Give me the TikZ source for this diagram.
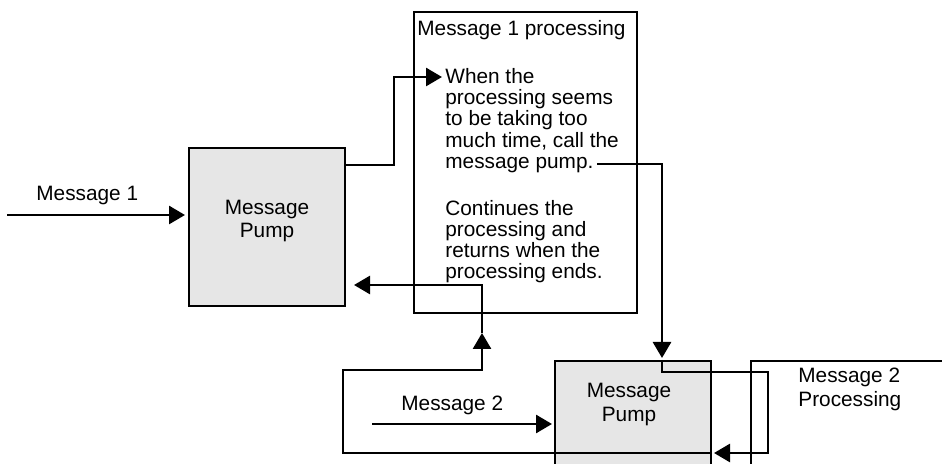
\documentclass[tikz,border=0pt]{standalone}
\usepackage{fontspec}
\setmainfont{Liberation Sans}
\usetikzlibrary{positioning, arrows.meta}
\definecolor{pumpfill}{HTML}{E6E6E6}

\begin{document}
\begin{tikzpicture}[
    x=0.5pt, y=-0.5pt,
    pump/.style={rectangle, draw, fill=pumpfill, line width=1pt, minimum width=78pt, minimum height=79pt, align=center, font=\fontsize{10.4}{11.8}\selectfont},
    procbox/.style={rectangle, draw, line width=1pt},
    txt/.style={inner sep=0pt, align=left, font=\fontsize{10.4}{10.6}\selectfont},
    arr/.style={-{Triangle[length=8pt, width=9pt]}, line width=1.4pt},
  ]
    \useasboundingbox (0,0) rectangle (942,464);
    \clip (0,0) rectangle (942,464);

    % boxes
    \node[pump, anchor=north west, text depth=8pt] (pump1) at (188,147) {Message\\Pump};
    \node[procbox, anchor=north west, minimum width=111.5pt, minimum height=150.5pt] (proc1) at (413,11) {};
    \node[pump, anchor=north west, text height=0pt] (pump2) at (554,360) {};
    \node[procbox, anchor=north west, minimum width=110pt, minimum height=80pt] (proc2) at (750,360) {};

    % texts
    \node[txt, anchor=base west] (proc1title) at (417,36) {Message 1 processing};
    \node[txt, anchor=north west] (proc1body) at (445,68) {When the\\processing seems\\to be taking too\\much time, call the\\message pump.\\[12.9pt]Continues the\\processing and\\returns when the\\processing ends.};
    \node[txt, align=center, anchor=north, font=\fontsize{10.4}{12}\selectfont] (pump2txt) at (629,383) {Message\\Pump};
    \node[txt, anchor=north west, font=\fontsize{10.4}{12}\selectfont] (proc2title) at (798,368) {Message 2\\Processing};
    \node[txt, anchor=base west] (msg1) at (36,201) {Message 1};
    \node[txt, anchor=base west] (msg2) at (401,410) {Message 2};

    \coordinate (m1in) at (7,215);
    \coordinate (m2in) at (372,424);
    \coordinate (whenpt) at (442,77);
    \coordinate (callpt) at (597,164);
    \coordinate (loopr) at (768,372);
    \coordinate (loopb) at (343,453);
    \coordinate (retup) at (482,370);
    \coordinate (retarr) at (482,333);

    % message 1 path
    \draw[arr, shorten >=1.5pt] (m1in) -- (m1in -| pump1.west);
    \draw[arr] ([yshift=-9pt]pump1.north east) -- ++(48,0) |- (whenpt);
    \draw[arr, shorten >=1pt] (callpt) -| ([xshift=14.5pt]pump2.north);

    % nested pump
    \draw[arr, shorten >=1pt] ([xshift=14.5pt]pump2.north) |- (loopr) |- (loopb -| pump2.east);
    \draw[arr, shorten >=1pt] (m2in) -- (m2in -| pump2.west);

    % back to first pump
    \draw[arr] (loopb -| pump2.east) -- (loopb) |- (retup) -- (retarr);
    \draw[arr, shorten >=4pt] (retarr) |- ([yshift=11pt]pump1.south east);
  \end{tikzpicture}
\end{document}
